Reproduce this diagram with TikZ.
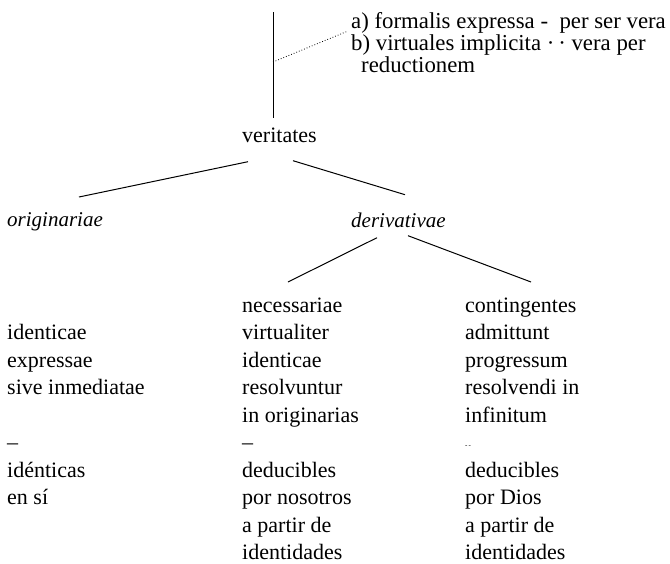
\documentclass[tikz,border=0pt]{standalone}
\usepackage{fontspec}
\setmainfont{Liberation Serif}

\begin{document}
\begin{tikzpicture}[
    x=1pt, y=-1pt,
    word/.style={
        inner sep=0pt,
        anchor=base west,
        font=\fontsize{22}{27.5}\selectfont
    },
    slanted/.style={word, font=\fontsize{21}{27.5}\selectfont\itshape},
    column/.style={word, align=left},
    branch/.style={line width=1pt},
    link/.style={line width=0.8pt, dotted}
]
\useasboundingbox (0,0) rectangle (670,563);

% multi-line nodes sit on the baseline of their last line
\coordinate (stem) at (273,12);
\coordinate (fork) at (273,62);

\node[column, font=\fontsize{22.8}{22.4}\selectfont] (modos) at (351,72.8) {a) formalis expressa -\ \ per ser vera\\b) virtuales implicita ·\,· vera per\\\hspace*{10pt}reductionem};
\node[word] (verit) at (242,142.7) {veritates};
\node[slanted] (orig) at (7,226) {originariae};
\node[slanted] (deriv) at (351,227.7) {derivativae};

\node[column] (ident) at (7,504.5) {identicae\\expressae\\sive inmediatae\\[27.5pt]–\\idénticas\\en sí};
\node[column] (necess) at (242,559.5) {necessariae\\virtualiter\\identicae\\resolvuntur\\in originarias\\–\\deducibles\\por nosotros\\a partir de\\identidades};
\node[column] (conting) at (465,559.5) {contingentes\\admittunt\\progressum\\resolvendi in\\infinitum\\\raisebox{2pt}{\scriptsize -\,-}\\deducibles\\por Dios\\a partir de\\identidades};

\draw[branch, shorten >=10pt] (stem) -- (stem |- verit.north);
\draw[link] (fork) -- ([xshift=-3pt,yshift=41.8pt]modos.base west);
\draw[branch] ([xshift=6pt,yshift=-19pt]verit.base west) -- ([xshift=72pt,yshift=29pt]orig.base west);
\draw[branch] ([xshift=51pt,yshift=-18pt]verit.base west) -- ([xshift=54pt,yshift=33pt]deriv.base west);
\draw[branch] ([xshift=26pt,yshift=-10pt]deriv.base west) -- ([xshift=46pt,yshift=277.5pt]necess.base west);
\draw[branch] ([xshift=57pt,yshift=-8pt]deriv.base west) -- ([xshift=66pt,yshift=277.5pt]conting.base west);

\end{tikzpicture}
\end{document}
